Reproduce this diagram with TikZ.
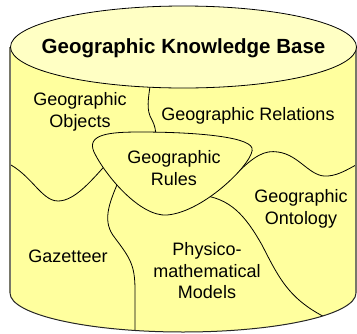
\documentclass[tikz,border=0pt]{standalone}
\usepackage{fontspec}
\setmainfont{Liberation Sans}
\usepackage{tikz}
\definecolor{kbyellow}{RGB}{255,255,158}
\definecolor{kbtop}{RGB}{255,255,196}
\definecolor{kbside}{RGB}{120,120,105}

\begin{document}
\begin{tikzpicture}[x=1pt,y=-1pt,
    region/.style={font=\fontsize{18}{21.5}\selectfont, align=center},
    border/.style={draw=black, line width=0.8pt}]
  \useasboundingbox (0,0) rectangle (357,333);
  % body of the cylinder
  \fill[kbyellow] (10,47) -- (10,293) arc[start angle=180, end angle=0, x radius=173, y radius=39] -- (356,47) -- cycle;
  \begin{scope}
    \clip (10,47) -- (10,293) arc[start angle=180, end angle=0, x radius=173, y radius=39] -- (356,47) -- cycle;
    % dividing lines
    \draw[border] (151,80) .. controls (148,100) and (146,110) .. (152,120) .. controls (154,124) and (156,128) .. (156,140);
    \draw[border] (0,160) .. controls (30,170) and (40,201) .. (58,201) .. controls (75,201) and (92,180) .. (110,160);
    \draw[border] (235,175) .. controls (255,155) and (265,150) .. (278,152) .. controls (300,155) and (310,178) .. (328,176) .. controls (340,175) and (350,168) .. (365,160);
    \draw[border] (120,178) .. controls (108,205) and (102,222) .. (115,238) .. controls (130,258) and (135,265) .. (135,290) -- (135,340);
    \draw[border] (200,195) .. controls (230,198) and (245,215) .. (262,245) .. controls (280,280) and (290,302) .. (335,322);
    % rules region
    \filldraw[fill=kbyellow, border] (94,152) .. controls (86,134) and (110,132) .. (140,132) .. controls (190,132) and (248,136) .. (252,148) .. controls (256,160) and (205,212) .. (167,215) .. controls (140,217) and (105,175) .. (94,152) -- cycle;
  \end{scope}
  % outline
  \draw[kbside, line width=1.2pt] (10,47) -- (10,293);
  \draw[kbside, line width=1.2pt] (356,47) -- (356,293);
  \draw[black!85, line width=1pt] (10,293) arc[start angle=180, end angle=0, x radius=173, y radius=39];
  % top of the cylinder
  \filldraw[fill=kbtop, border] (183.5,47) ellipse[x radius=173, y radius=41];
  \node[font=\bfseries\fontsize{20.5}{24}\selectfont] (kb) at (183.5,48) {Geographic Knowledge Base};
  \node[region] (objects) at (80,112) {Geographic\\Objects};
  \node[region] (relations) at (248,116) {Geographic Relations};
  \node[region] (rules) at (174,168) {Geographic\\Rules};
  \node[region] (ontology) at (301,209) {Geographic\\Ontology};
  \node[region] (gazetteer) at (68,256) {Gazetteer};
  \node[region] (models) at (207,271) {Physico-\\mathematical\\Models};
\end{tikzpicture}
\end{document}
